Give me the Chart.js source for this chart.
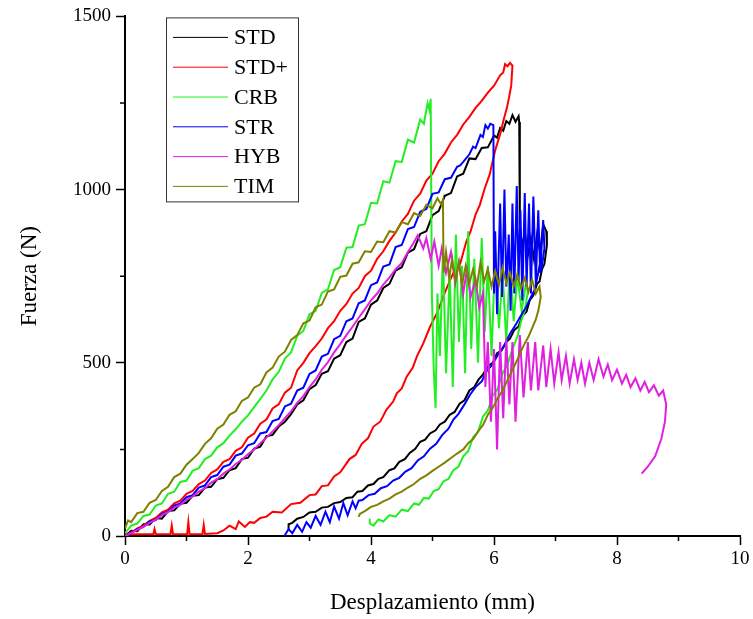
<!DOCTYPE html>
<html>
<head>
<meta charset="utf-8">
<script src="https://cdn.jsdelivr.net/npm/chart.js@4.4.0/dist/chart.umd.min.js"></script>
<style>
  body { margin: 0; background: #fff; }
  #wrap { width: 753px; height: 619px; }
</style>
</head>
<body>
<div id="wrap"><canvas id="fuerza" width="753" height="619"></canvas></div>
<script>
// [desplazamiento mm, fuerza N]
const seriesNames = ['STD', 'STD+', 'CRB', 'STR', 'HYB', 'TIM']
const seriesColors = ['#000000', '#ff0000', '#22ee22', '#0000ff', '#e020e0', '#808000']

const stdPts = [
  [0,0],[0.1,15],[0.2,14],[0.3,34],[0.4,33],[0.5,52],[0.6,50],[0.7,72],[0.8,74],[0.9,93],
  [1.0,96],[1.1,116],[1.2,118],[1.3,140],[1.4,142],[1.5,164],[1.6,168],[1.7,190],[1.8,196],[1.9,222],
  [2.0,226],[2.1,252],[2.2,258],[2.3,288],[2.4,292],[2.5,316],[2.6,330],[2.7,352],[2.8,380],[2.9,392],
  [3.0,424],[3.1,436],[3.2,468],[3.3,476],[3.4,512],[3.5,522],[3.6,560],[3.7,570],[3.8,618],[3.9,628],
  [4.0,668],[4.1,680],[4.2,716],[4.3,728],[4.4,766],[4.5,776],[4.6,818],[4.7,828],[4.8,872],[4.9,880],
  [5.0,926],[5.1,938],[5.2,982],[5.3,990],[5.4,1038],[5.5,1046],[5.6,1090],[5.7,1088],[5.8,1120],[5.9,1122],
  [6.0,1156],[6.05,1150],[6.1,1178],[6.15,1170],[6.2,1198],[6.25,1190],[6.3,1215],[6.35,1196],[6.4,1212],[6.41,1195],
  [6.42,900],[6.46,830],[6.5,880],[6.55,810],[6.6,860],[6.65,800],[6.7,870],[6.75,820],[6.8,900],[6.85,880],
  [6.86,840],[6.82,785],[6.78,770],[6.74,735],[6.7,728],[6.64,695],[6.58,680],[6.53,648],[6.46,635],[6.4,605],
  [6.33,595],[6.26,570],[6.2,560],[6.12,535],[6.05,528],[5.98,500],[5.9,490],[5.82,466],[5.75,452],[5.68,430],
  [5.6,420],[5.52,392],[5.44,382],[5.36,358],[5.28,350],[5.2,330],[5.12,322],[5.05,305],[4.96,296],[4.88,278],
  [4.8,272],[4.72,252],[4.63,240],[4.55,222],[4.46,214],[4.38,195],[4.3,190],[4.2,170],[4.12,165],[4.04,150],
  [3.95,146],[3.86,130],[3.78,128],[3.7,112],[3.6,110],[3.5,98],[3.4,95],[3.3,84],[3.2,82],[3.1,70],
  [3.0,68],[2.9,55],[2.8,50],[2.72,38],[2.66,34],[2.66,18]
]

const stdPlusPts = [
  [0,0],[0.1,10],[0.2,22],[0.3,30],[0.4,44],[0.5,52],[0.6,68],[0.7,76],[0.8,94],[0.9,102],
  [1.0,122],[1.1,130],[1.2,150],[1.3,160],[1.4,182],[1.5,192],[1.6,214],[1.7,222],[1.8,246],[1.9,256],
  [2.0,284],[2.1,296],[2.2,324],[2.3,336],[2.4,368],[2.5,380],[2.6,414],[2.7,428],[2.8,478],[2.9,500],
  [3.0,528],[3.1,548],[3.2,570],[3.3,600],[3.4,620],[3.5,650],[3.6,670],[3.7,700],[3.8,716],[3.9,750],
  [4.0,766],[4.1,800],[4.2,822],[4.3,852],[4.4,876],[4.5,908],[4.6,930],[4.7,968],[4.8,988],[4.9,1026],
  [5.0,1046],[5.1,1082],[5.2,1104],[5.3,1136],[5.4,1158],[5.5,1188],[5.6,1210],[5.7,1236],[5.8,1256],[5.9,1280],
  [6.0,1300],[6.1,1330],[6.15,1338],[6.18,1362],[6.22,1356],[6.26,1366],[6.3,1358],
  [6.28,1300],[6.24,1262],[6.21,1236],[6.16,1204],[6.1,1160],[6.02,1114],[5.93,1044],[5.85,1004],[5.77,956],[5.7,928],
  [5.62,880],[5.55,850],[5.45,786],[5.37,772],[5.28,736],[5.18,694],[5.08,646],[4.96,604],[4.85,556],[4.75,520],
  [4.68,486],[4.58,460],[4.5,426],[4.42,412],[4.36,388],[4.25,364],[4.15,330],[4.04,316],[3.95,282],[3.85,266],
  [3.75,234],[3.65,222],[3.5,184],[3.4,172],[3.3,146],[3.2,144],[3.1,120],[3.0,118],[2.85,96],[2.7,92],
  [2.55,68],[2.4,70],[2.3,56],[2.2,52],[2.1,38],[2.03,40],[1.95,26],[1.85,42],[1.8,20],[1.7,30],
  [1.6,16],[1.5,8],[1.3,6],[1.28,32],[1.26,6],[1.05,5],[1.03,40],[1.01,5],[0.78,6],[0.76,30],
  [0.74,6],[0.5,5],[0.48,20],[0.46,5],[0.2,5],[0,4]
]

const crbPts = [
  [0,8],[0.1,30],[0.2,36],[0.3,58],[0.4,62],[0.5,88],[0.6,94],[0.7,122],[0.8,128],[0.9,156],
  [1.0,160],[1.1,188],[1.2,196],[1.3,222],[1.4,232],[1.5,256],[1.6,268],[1.7,290],[1.8,308],[1.9,330],
  [2.0,348],[2.1,372],[2.2,396],[2.3,420],[2.4,452],[2.5,474],[2.6,512],[2.7,530],[2.8,578],[2.9,592],
  [3.0,640],[3.1,650],[3.2,702],[3.3,712],[3.4,768],[3.5,776],[3.6,832],[3.7,834],[3.8,896],[3.9,900],
  [4.0,962],[4.1,960],[4.2,1024],[4.3,1020],[4.4,1082],[4.5,1080],[4.6,1144],[4.7,1136],[4.8,1202],[4.86,1190],
  [4.92,1250],[4.95,1230],[4.97,1262],
  [4.99,700],[5.02,480],[5.05,370],[5.08,700],[5.12,520],[5.17,820],[5.22,470],[5.28,760],[5.33,430],[5.38,870],
  [5.43,560],[5.48,780],[5.53,470],[5.58,880],[5.63,540],[5.68,800],[5.74,500],[5.8,860],[5.85,590],[5.9,780],
  [5.96,520],[6.02,820],[6.08,600],[6.14,760],[6.2,560],[6.26,790],[6.32,620],[6.38,750],[6.45,650],[6.52,730],
  [6.55,705],[6.5,650],[6.44,620],[6.38,575],[6.3,540],[6.22,495],[6.14,470],[6.06,425],[5.98,405],[5.9,362],
  [5.82,345],[5.74,300],[5.66,285],[5.58,245],[5.5,230],[5.42,200],[5.34,190],[5.26,165],[5.18,158],[5.1,135],
  [5.02,130],[4.94,108],[4.86,110],[4.78,90],[4.7,94],[4.6,72],[4.5,76],[4.4,56],[4.3,60],[4.2,42],
  [4.12,48],[4.04,30],[3.98,36],[3.98,50]
]

const strPts = [
  [0,0],[0.1,8],[0.2,20],[0.3,26],[0.4,42],[0.5,46],[0.6,64],[0.7,70],[0.8,88],[0.9,94],
  [1.0,112],[1.1,118],[1.2,140],[1.3,146],[1.4,170],[1.5,176],[1.6,200],[1.7,206],[1.8,232],[1.9,238],
  [2.0,262],[2.1,268],[2.2,296],[2.3,300],[2.4,332],[2.5,338],[2.6,374],[2.7,382],[2.8,420],[2.9,428],
  [3.0,468],[3.1,478],[3.2,518],[3.3,526],[3.4,568],[3.5,578],[3.6,620],[3.7,628],[3.8,672],[3.9,680],
  [4.0,724],[4.1,732],[4.2,778],[4.3,784],[4.4,834],[4.5,840],[4.6,886],[4.7,892],[4.8,936],[4.9,944],
  [5.0,988],[5.1,992],[5.2,1030],[5.3,1034],[5.4,1066],[5.45,1070],[5.5,1080],[5.6,1102],[5.66,1124],[5.7,1120],
  [5.78,1158],[5.82,1152],[5.86,1186],[5.9,1176],[5.94,1190],[5.99,1186],
  [6.0,700],[6.02,880],[6.05,640],[6.1,960],[6.13,690],[6.17,1000],[6.2,720],[6.24,870],[6.27,650],[6.3,960],
  [6.33,700],[6.37,1010],[6.4,740],[6.43,940],[6.46,680],[6.5,990],[6.53,720],[6.57,960],[6.6,700],[6.64,980],
  [6.68,730],[6.72,940],[6.75,760],[6.8,912],[6.82,830],[6.78,780],
  [6.76,800],[6.72,760],[6.66,710],[6.6,690],[6.52,660],[6.45,640],[6.36,612],[6.26,584],[6.16,548],[6.06,522],
  [5.96,492],[5.88,476],[5.8,446],[5.7,430],[5.61,408],[5.52,380],[5.42,352],[5.34,336],[5.26,310],[5.16,292],
  [5.06,266],[4.96,252],[4.86,230],[4.76,218],[4.66,196],[4.56,186],[4.46,168],[4.36,160],[4.26,144],[4.16,138],
  [4.06,122],[3.96,118],[3.86,104],[3.8,102],[3.75,80],[3.7,100],[3.62,60],[3.55,95],[3.48,50],[3.4,85],
  [3.33,40],[3.26,70],[3.18,32],[3.1,58],[3.02,24],[2.95,40],[2.88,12],[2.8,32],[2.72,8],[2.66,20],
  [2.6,2],[2.6,0]
]

const hybPts = [
  [0,0],[0.1,8],[0.2,18],[0.3,27],[0.4,38],[0.5,47],[0.6,60],[0.7,69],[0.8,82],[0.9,90],
  [1.0,104],[1.1,114],[1.2,128],[1.3,138],[1.4,154],[1.5,164],[1.6,180],[1.7,192],[1.8,208],[1.9,220],
  [2.0,236],[2.1,250],[2.2,268],[2.3,284],[2.4,302],[2.5,320],[2.6,340],[2.7,360],[2.8,384],[2.9,404],
  [3.0,430],[3.1,452],[3.2,480],[3.3,502],[3.4,530],[3.5,554],[3.6,580],[3.7,604],[3.8,630],[3.9,654],
  [4.0,680],[4.1,700],[4.2,726],[4.3,746],[4.4,770],[4.5,788],[4.6,820],[4.68,842],[4.76,868],
  [4.85,830],[4.9,860],[4.97,800],[5.03,850],[5.1,780],[5.15,830],[5.22,760],[5.3,820],[5.37,730],[5.43,790],
  [5.5,700],[5.56,770],[5.62,690],[5.7,740],[5.76,660],[5.82,700],[5.86,430],[5.9,560],[5.95,330],[6.0,540],
  [6.05,250],[6.1,560],[6.15,340],[6.2,570],[6.25,380],[6.3,560],[6.35,330],[6.42,580],[6.48,400],[6.55,560],
  [6.6,420],[6.67,560],[6.72,420],[6.8,550],[6.85,430],[6.92,540],[6.98,440],[7.05,530],[7.1,450],[7.17,520],
  [7.23,440],[7.3,510],[7.36,450],[7.42,500],[7.48,440],[7.55,500],[7.62,450],[7.7,510],[7.78,460],[7.85,495],
  [7.92,450],[8.0,480],[8.08,440],[8.15,465],[8.22,430],[8.3,455],[8.38,420],[8.45,445],[8.52,415],[8.6,435],
  [8.68,405],[8.75,420],[8.8,380],[8.78,330],[8.72,280],[8.62,230],[8.5,200],[8.4,180]
]

const timPts = [
  [0,22],[0.05,45],[0.1,40],[0.2,66],[0.3,70],[0.4,96],[0.5,104],[0.6,130],[0.7,142],[0.8,170],
  [0.9,180],[1.0,206],[1.1,222],[1.2,240],[1.3,266],[1.4,282],[1.5,310],[1.6,322],[1.7,350],[1.8,360],
  [1.9,390],[2.0,400],[2.1,428],[2.2,438],[2.3,472],[2.4,486],[2.5,518],[2.6,532],[2.7,566],[2.8,580],
  [2.9,614],[3.0,622],[3.1,660],[3.2,668],[3.3,706],[3.4,712],[3.5,748],[3.6,752],[3.7,786],[3.8,790],
  [3.9,822],[4.0,820],[4.1,850],[4.2,848],[4.3,880],[4.4,876],[4.5,906],[4.6,900],[4.7,932],[4.8,924],
  [4.9,956],[5.0,946],[5.08,975],[5.15,955],[5.17,968],
  [5.18,760],[5.22,820],[5.27,745],[5.32,800],[5.37,735],[5.43,790],[5.48,725],[5.54,780],[5.6,730],[5.66,770],
  [5.72,720],[5.78,790],[5.84,735],[5.9,770],[5.96,720],[6.02,765],[6.08,725],[6.14,775],[6.2,730],[6.26,760],
  [6.32,720],[6.38,755],[6.44,715],[6.5,745],[6.56,705],[6.62,740],[6.68,700],[6.74,720],[6.76,690],
  [6.72,650],[6.68,625],[6.62,600],[6.56,575],[6.5,556],[6.43,530],[6.37,505],[6.3,480],[6.22,450],[6.14,420],
  [6.06,398],[5.98,370],[5.9,350],[5.82,320],[5.74,302],[5.66,280],[5.58,268],[5.5,250],[5.4,238],[5.3,225],
  [5.2,212],[5.1,200],[5.0,188],[4.9,175],[4.8,165],[4.7,150],[4.6,140],[4.5,128],[4.4,120],[4.3,108],
  [4.2,100],[4.1,90],[4.0,84],[3.9,72],[3.82,64],[3.8,55]
]

const xTicks = [0, 2, 4, 6, 8, 10]
const xMinorTicks = [1, 3, 5, 7, 9]
const yTicks = [0, 500, 1000, 1500]
const yMinorTicks = [250, 750, 1250]

const serif = "'Liberation Serif', 'Times New Roman', serif"
const allPts = [stdPts, stdPlusPts, crbPts, strPts, hybPts, timPts]

const datasets = allPts.map((pts, i) => ({
    label: seriesNames[i],
    data: pts.map(p => ({ x: p[0], y: p[1] })),
    borderColor: seriesColors[i],
    backgroundColor: seriesColors[i],
    borderWidth: 2,
    showLine: true,
    pointRadius: 0,
    tension: 0,
    order: 6 - i
}))

// minor ticks + boxed legend in the upper left, like the original plot
const extras = {
    id: 'extras',
    afterDraw(chart) {
        const ctx = chart.ctx
        const xs = chart.scales.x
        const ys = chart.scales.y
        const area = chart.chartArea
        ctx.save()
        ctx.strokeStyle = '#000'
        ctx.lineWidth = 1.5
        ctx.beginPath()
        xMinorTicks.forEach(v => {
            const px = xs.getPixelForValue(v)
            ctx.moveTo(px, area.bottom)
            ctx.lineTo(px, area.bottom + 5)
        })
        yMinorTicks.forEach(v => {
            const py = ys.getPixelForValue(v)
            ctx.moveTo(area.left, py)
            ctx.lineTo(area.left - 5, py)
        })
        ctx.stroke()

        const bx = area.left + 41, by = area.top + 1, bw = 132, bh = 184
        ctx.lineWidth = 1
        ctx.strokeStyle = '#333'
        ctx.strokeRect(bx + 0.5, by + 0.5, bw, bh)
        ctx.font = '22px ' + serif
        ctx.textBaseline = 'middle'
        ctx.fillStyle = '#000'
        chart.data.datasets.forEach((ds, i) => {
            const ry = by + 20 + i * 29.8
            ctx.strokeStyle = ds.borderColor
            ctx.lineWidth = 1
            ctx.beginPath()
            ctx.moveTo(bx + 7, ry)
            ctx.lineTo(bx + 62, ry)
            ctx.stroke()
            ctx.fillText(ds.label, bx + 68, ry + 1)
        })
        ctx.restore()
    }
}

const config = {
    type: 'scatter',
    data: { datasets: datasets },
    options: {
        responsive: false,
        animation: false,
        layout: { padding: { top: 16, right: 13, left: 0, bottom: 0 } },
        plugins: { legend: { display: false }, tooltip: { enabled: false } },
        scales: {
            x: {
                type: 'linear',
                min: 0,
                max: 10,
                afterFit: s => { s.height = 83 },
                afterBuildTicks: s => { s.ticks = xTicks.map(v => ({ value: v })) },
                grid: { drawOnChartArea: false, tickLength: 9, tickWidth: 1.5, tickColor: '#000' },
                border: { color: '#000', width: 2 },
                ticks: { color: '#000', padding: 3, font: { family: serif, size: 19 },
                         callback: v => String(v) },
                title: { display: true, text: 'Desplazamiento (mm)', color: '#000',
                         font: { family: serif, size: 23 }, padding: { top: 0, bottom: 2 } }
            },
            y: {
                type: 'linear',
                min: 0,
                max: 1500,
                afterFit: s => { s.width = 125 },
                afterBuildTicks: s => { s.ticks = yTicks.map(v => ({ value: v })) },
                grid: { drawOnChartArea: false, tickLength: 9, tickWidth: 1.5, tickColor: '#000' },
                border: { color: '#000', width: 2 },
                ticks: { color: '#000', padding: 5, font: { family: serif, size: 19 },
                         callback: v => String(v) },
                title: { display: true, text: 'Fuerza (N)', color: '#000',
                         font: { family: serif, size: 23 }, padding: { top: 16, bottom: 0 } }
            }
        }
    },
    plugins: [extras]
}

const fuerzaChart = new Chart(document.getElementById('fuerza'), config)
</script>
</body>
</html>
